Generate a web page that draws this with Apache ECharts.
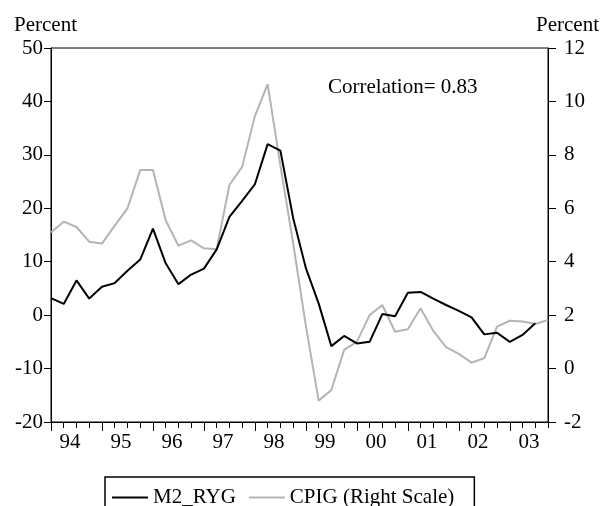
<!DOCTYPE html>
<html>
<head>
<meta charset="utf-8">
<script src="https://cdn.jsdelivr.net/npm/echarts@6/dist/echarts.min.js"></script>
<style>
html,body{margin:0;padding:0;background:#fff;}
#chart{width:602px;height:506px;}
</style>
</head>
<body>
<div id="chart"></div>
<script>
// Quarterly data, 1994Q1 .. 2003Q4
var yearLabels = ["94","95","96","97","98","99","00","01","02","03"];
var m2ryg = [3.2, 2.1, 6.5, 3.1, 5.3, 6.0, 8.3, 10.4, 16.2, 9.7,
             5.8, 7.6, 8.7, 12.3, 18.4, 21.4, 24.5, 32.0, 30.8, 18.2,
             8.8, 2.2, -5.8, -3.9, -5.3, -5.0, 0.2, -0.2, 4.2, 4.35,
             3.1, 1.9, 0.8, -0.4, -3.6, -3.3, -5.0, -3.7, -1.5, null];
var cpig = [5.1, 5.5, 5.3, 4.75, 4.68, 5.35, 6.0, 7.43, 7.43, 5.55,
            4.6, 4.8, 4.5, 4.47, 6.87, 7.55, 9.45, 10.65, 7.6, 4.7,
            1.6, -1.2, -0.8, 0.7, 1.0, 2.0, 2.38, 1.38, 1.47, 2.26,
            1.41, 0.8, 0.55, 0.22, 0.39, 1.57, 1.79, 1.76, 1.67, 1.82];
var corrText = "Correlation= 0.83";

var FONT = "Liberation Serif";
var FS = 21;
var nQ = cpig.length;
var quarterTicks = [], yearTicks = [], yearLabelPos = [];
for (var i = 0; i < nQ; i++) quarterTicks.push(i);
for (var y = 0; y < yearLabels.length; y++) { yearTicks.push(y * 4); yearLabelPos.push(y * 4 + 1.5); }

function pairs(arr) { return arr.map(function (v, i) { return [i, v]; }); }

var chart = echarts.init(document.getElementById('chart'), null, {renderer: 'canvas'});
chart.setOption({
  animation: false,
  backgroundColor: '#fff',
  textStyle: {fontFamily: FONT, color: '#000'},
  grid: {left: 51, right: 53, top: 48, bottom: 84, show: true, borderColor: '#000', borderWidth: 1, backgroundColor: 'transparent'},
  xAxis: [{
    type: 'value', min: 0, max: nQ - 1, position: 'bottom',
    axisLine: {show: true, onZero: false, lineStyle: {color: '#000', width: 1}},
    axisTick: {show: true, customValues: quarterTicks, length: 6, inside: false, lineStyle: {color: '#000'}},
    axisLabel: {show: false},
    splitLine: {show: false}
  }, {
    type: 'value', min: 0, max: nQ - 1, position: 'bottom', offset: 0,
    axisLine: {show: false, onZero: false},
    axisTick: {show: true, customValues: yearTicks, length: 9, lineStyle: {color: '#000'}},
    axisLabel: {show: true, customValues: yearLabelPos, margin: 10, fontFamily: FONT, fontSize: FS, color: '#000',
      formatter: function (v) { return yearLabels[Math.floor(v / 4)]; }},
    splitLine: {show: false}
  }],
  yAxis: [{
    type: 'value', min: -20, max: 50, interval: 10, position: 'left',
    name: 'Percent', nameLocation: 'end', nameGap: 12,
    nameTextStyle: {fontFamily: FONT, fontSize: FS, color: '#000', padding: [0, 11, 0, 0]},
    axisLine: {show: true, onZero: false, lineStyle: {color: '#000'}},
    axisTick: {show: true, length: 7, lineStyle: {color: '#000'}},
    axisLabel: {margin: 8, fontFamily: FONT, fontSize: FS, color: '#000'},
    splitLine: {show: false}
  }, {
    type: 'value', min: -2, max: 12, interval: 2, position: 'right',
    name: 'Percent', nameLocation: 'end', nameGap: 12,
    nameTextStyle: {fontFamily: FONT, fontSize: FS, color: '#000', padding: [0, 0, 0, 39]},
    axisLine: {show: true, onZero: false, lineStyle: {color: '#000'}},
    axisTick: {show: true, length: 8, lineStyle: {color: '#000'}},
    axisLabel: {margin: 16, fontFamily: FONT, fontSize: FS, color: '#000'},
    splitLine: {show: false}
  }],
  legend: {
    left: 105, top: 477, width: 372,
    orient: 'horizontal',
    padding: [10, 20, 20, 7],
    borderColor: '#000', borderWidth: 1.5,
    icon: 'rect',
    itemWidth: 36, itemHeight: 2, itemGap: 13,
    textStyle: {fontFamily: FONT, fontSize: FS, color: '#000'},
    data: ['M2_RYG', 'CPIG (Right Scale)']
  },
  graphic: [{
    type: 'text', left: 328, top: 77,
    style: {text: corrText, font: FS + 'px "' + FONT + '"', fill: '#000'}
  }],
  series: [{
    name: 'M2_RYG', type: 'line', xAxisIndex: 0, yAxisIndex: 0,
    data: pairs(m2ryg), symbol: 'none', showSymbol: false,
    lineStyle: {color: '#000', width: 2}, itemStyle: {color: '#000'}
  }, {
    name: 'CPIG (Right Scale)', type: 'line', xAxisIndex: 0, yAxisIndex: 1,
    data: pairs(cpig), symbol: 'none', showSymbol: false,
    lineStyle: {color: '#b4b4b4', width: 2}, itemStyle: {color: '#b4b4b4'}, z: 1
  }]
});
</script>
</body>
</html>
